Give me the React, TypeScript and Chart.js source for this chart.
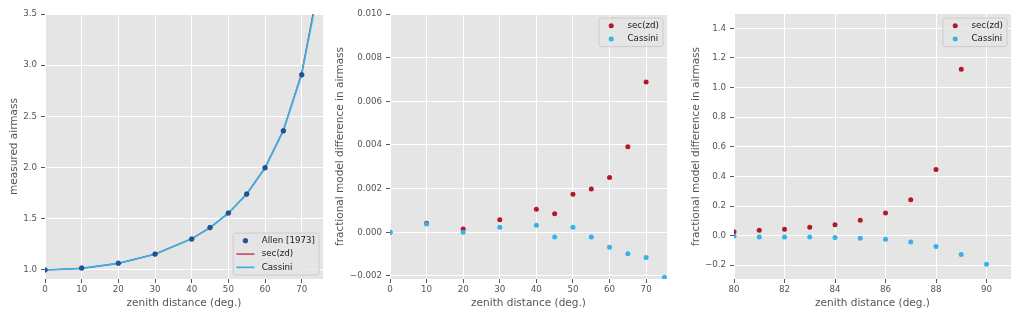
import React, { useEffect, useRef } from 'react';
import { Chart, registerables } from 'chart.js';
Chart.register(...registerables);

const FONT = '"DejaVu Sans", sans-serif';
const INK = '#555555';
const RED = '#b2182b';
const BLUE = '#38b2e6';
const NAVY = '#1f55a3';

// ---------- data ----------
const zdLeft = [0, 10, 20, 30, 40, 45, 50, 55, 60, 65, 70, 75];
const allenAirmass = [1.0, 1.019, 1.066, 1.155, 1.302, 1.414, 1.556, 1.741, 1.998, 2.359, 2.906, 3.82];
const secAirmass = [1.0, 1.015, 1.064, 1.155, 1.305, 1.414, 1.556, 1.743, 2.0, 2.366, 2.924, 3.864];
const cassiniAirmass = [1.0, 1.015, 1.064, 1.154, 1.304, 1.413, 1.554, 1.741, 1.996, 2.361, 2.911, 3.83];

const zdMid = [0, 10, 20, 30, 40, 45, 50, 55, 60, 65, 70, 75];
const secDiffMid = [0, 0.000415, 0.00015, 0.00058, 0.00106, 0.00085, 0.00174, 0.00198, 0.00251, 0.00392, 0.00688];
const cassiniDiffMid = [0, 0.00038, 0.0, 0.00023, 0.00032, -0.00022, 0.00023, -0.00022, -0.00069, -0.00098, -0.00115, -0.00206];

const zdRight = [80, 81, 82, 83, 84, 85, 86, 87, 88, 89, 90];
const secDiffRight = [0.027, 0.036, 0.043, 0.056, 0.074, 0.104, 0.153, 0.243, 0.446, 1.123];
const cassiniDiffRight = [-0.002, -0.009, -0.009, -0.009, -0.0135, -0.018, -0.025, -0.043, -0.074, -0.128, -0.194];

const xTitle = 'zenith distance (deg.)';
const yTitleLeft = 'measured airmass';
const yTitleDiff = 'fractional model difference in airmass';
const labelAllen = 'Allen [1973]';
const labelSec = 'sec(zd)';
const labelCassini = 'Cassini';

const toXY = (xs: number[], ys: number[]) => ys.map((y, i) => ({ x: xs[i], y }));

// ---------- plugins ----------
const bgPlugin = {
  id: 'panelBg',
  beforeDraw(chart: any) {
    const { ctx, chartArea: a } = chart;
    ctx.save();
    ctx.fillStyle = '#e5e5e5';
    ctx.fillRect(a.left, a.top, a.right - a.left, a.bottom - a.top);
    ctx.restore();
  },
};

const boxLegend = {
  id: 'boxLegend',
  afterDraw(chart: any, _args: any, opts: any) {
    const { ctx, chartArea: a } = chart;
    const fs = 8.7;
    const items = chart.data.datasets;
    ctx.save();
    ctx.font = `${fs}px ${FONT}`;
    const textW = Math.max(...items.map((d: any) => ctx.measureText(d.label).width));
    const rowH = 13.3, padL = 3.3, handleW = 18, gap = 7.3, padR = 4, margin = 4;
    const w = padL + handleW + gap + textW + padR;
    const h = items.length * rowH + 2;
    const x0 = a.right - margin - w;
    const y0 = opts.corner === 'bottom' ? a.bottom - margin - h : a.top + margin;
    ctx.beginPath();
    (ctx as any).roundRect(x0, y0, w, h, 2.5);
    ctx.fillStyle = 'rgba(229,229,229,0.8)';
    ctx.fill();
    ctx.strokeStyle = '#cccccc';
    ctx.lineWidth = 1;
    ctx.stroke();
    items.forEach((d: any, k: number) => {
      const cy = y0 + 1 + rowH * (k + 0.5);
      const hx = x0 + padL;
      if (d.showLine) {
        ctx.beginPath();
        ctx.strokeStyle = d.borderColor;
        ctx.lineWidth = d.borderWidth;
        ctx.moveTo(hx, cy);
        ctx.lineTo(hx + handleW, cy);
        ctx.stroke();
      } else {
        ctx.beginPath();
        ctx.arc(hx + handleW / 2, cy, d.pointRadius, 0, Math.PI * 2);
        ctx.fillStyle = d.pointBackgroundColor;
        ctx.fill();
        if (d.pointBorderWidth) {
          ctx.strokeStyle = d.pointBorderColor;
          ctx.lineWidth = d.pointBorderWidth;
          ctx.stroke();
        }
      }
      ctx.fillStyle = '#1a1a1a';
      ctx.textBaseline = 'middle';
      ctx.textAlign = 'left';
      ctx.fillText(d.label, hx + handleW + gap, cy);
    });
    ctx.restore();
  },
};

const fmt = (v: number, d: number) => Number(v).toFixed(d).replace('-', '\u2212');

function scales(o: {
  xMin: number; xMax: number; xStep: number;
  yMin: number; yMax: number; yStep: number; yDec: number;
  yTitle: string; yWidth: number; yTitlePad: number;
}) {
  const tickFont = { family: FONT, size: 8.7 };
  const titleFont = { family: FONT, size: 10.5 };
  const grid = { color: '#ffffff', lineWidth: 1, drawTicks: true, tickLength: 4, tickColor: INK, tickWidth: 1 };
  return {
    x: {
      type: 'linear',
      min: o.xMin,
      max: o.xMax,
      grid,
      border: { display: false },
      ticks: {
        stepSize: o.xStep, includeBounds: false, color: INK, font: tickFont, padding: 1.5,
        maxRotation: 0, autoSkip: false, callback: (v: any) => String(v),
      },
      title: { display: true, text: xTitle, color: INK, font: titleFont, padding: { top: 0, bottom: 10.2 } },
      afterFit: (s: any) => { s.height = 41; },
    },
    y: {
      type: 'linear',
      min: o.yMin,
      max: o.yMax,
      grid,
      border: { display: false },
      ticks: {
        stepSize: o.yStep, includeBounds: false, color: INK, font: tickFont, padding: 4,
        autoSkip: false, callback: (v: any) => fmt(v, o.yDec),
      },
      title: { display: true, text: o.yTitle, color: INK, font: titleFont, padding: { top: o.yTitlePad, bottom: 0 } },
      afterFit: (s: any) => { s.width = o.yWidth; },
    },
  };
}

function baseOptions(sc: any, corner: string, padRight: number) {
  return {
    animation: false,
    responsive: true,
    maintainAspectRatio: false,
    events: [],
    layout: { padding: { top: 14, right: padRight, left: 0, bottom: 0 } },
    scales: sc,
    plugins: { legend: { display: false }, tooltip: { enabled: false }, boxLegend: { corner } },
  };
}

function configLeft(): any {
  return {
    type: 'scatter',
    data: {
      datasets: [
        {
          label: labelAllen, data: toXY(zdLeft, allenAirmass), showLine: false, order: 0,
          pointRadius: 2.3, pointBackgroundColor: NAVY, pointBorderColor: '#123d7a', pointBorderWidth: 0.8,
          clip: 0,
        },
        {
          label: labelSec, data: toXY(zdLeft, secAirmass), showLine: true, order: 2,
          borderColor: RED, borderWidth: 1.2, pointRadius: 0, clip: 0,
        },
        {
          label: labelCassini, data: toXY(zdLeft, cassiniAirmass), showLine: true, order: 1,
          borderColor: BLUE, borderWidth: 1.7, pointRadius: 0, clip: 0,
        },
      ],
    },
    options: baseOptions(
      scales({ xMin: 0, xMax: 75.8, xStep: 10, yMin: 0.912, yMax: 3.5, yStep: 0.5, yDec: 1, yTitle: yTitleLeft, yWidth: 45, yTitlePad: 8 }),
      'bottom', 17,
    ),
    plugins: [bgPlugin, boxLegend],
  };
}

function diffConfig(xs: number[], sec: number[], cas: number[], sc: any, padRight: number): any {
  return {
    type: 'scatter',
    data: {
      datasets: [
        {
          label: labelSec, data: toXY(xs, sec), showLine: false, order: 1,
          pointRadius: 2.5, pointBackgroundColor: RED, pointBorderColor: RED, pointBorderWidth: 0, clip: 0,
        },
        {
          label: labelCassini, data: toXY(xs, cas), showLine: false, order: 0,
          pointRadius: 2.5, pointBackgroundColor: BLUE, pointBorderColor: BLUE, pointBorderWidth: 0, clip: 0,
        },
      ],
    },
    options: baseOptions(sc, 'top', padRight),
    plugins: [bgPlugin, boxLegend],
  };
}

function configMid(): any {
  return diffConfig(
    zdMid, secDiffMid, cassiniDiffMid,
    scales({ xMin: 0, xMax: 75.7, xStep: 10, yMin: -0.00214, yMax: 0.01, yStep: 0.002, yDec: 3, yTitle: yTitleDiff, yWidth: 62, yTitlePad: 6.2 }),
    13,
  );
}

function configRight(): any {
  return diffConfig(
    zdRight, secDiffRight, cassiniDiffRight,
    scales({ xMin: 80, xMax: 90.97, xStep: 2, yMin: -0.293, yMax: 1.497, yStep: 0.2, yDec: 1, yTitle: yTitleDiff, yWidth: 58, yTitlePad: 14 }),
    13,
  );
}

function Panel({ left, width, build }: { left: number; width: number; build: () => any }) {
  const ref = useRef<HTMLCanvasElement>(null);
  useEffect(() => {
    const chart = new Chart(ref.current as HTMLCanvasElement, build());
    return () => chart.destroy();
  }, []);
  return (
    <div style={{ position: 'absolute', left, top: 0, width, height: 320 }}>
      <canvas ref={ref} />
    </div>
  );
}

export default function App() {
  return (
    <div style={{ position: 'fixed', left: 0, top: 0, width: 1024, height: 320, background: '#ffffff' }}>
      <Panel left={0} width={340} build={configLeft} />
      <Panel left={328} width={352} build={configMid} />
      <Panel left={676} width={348} build={configRight} />
    </div>
  );
}
